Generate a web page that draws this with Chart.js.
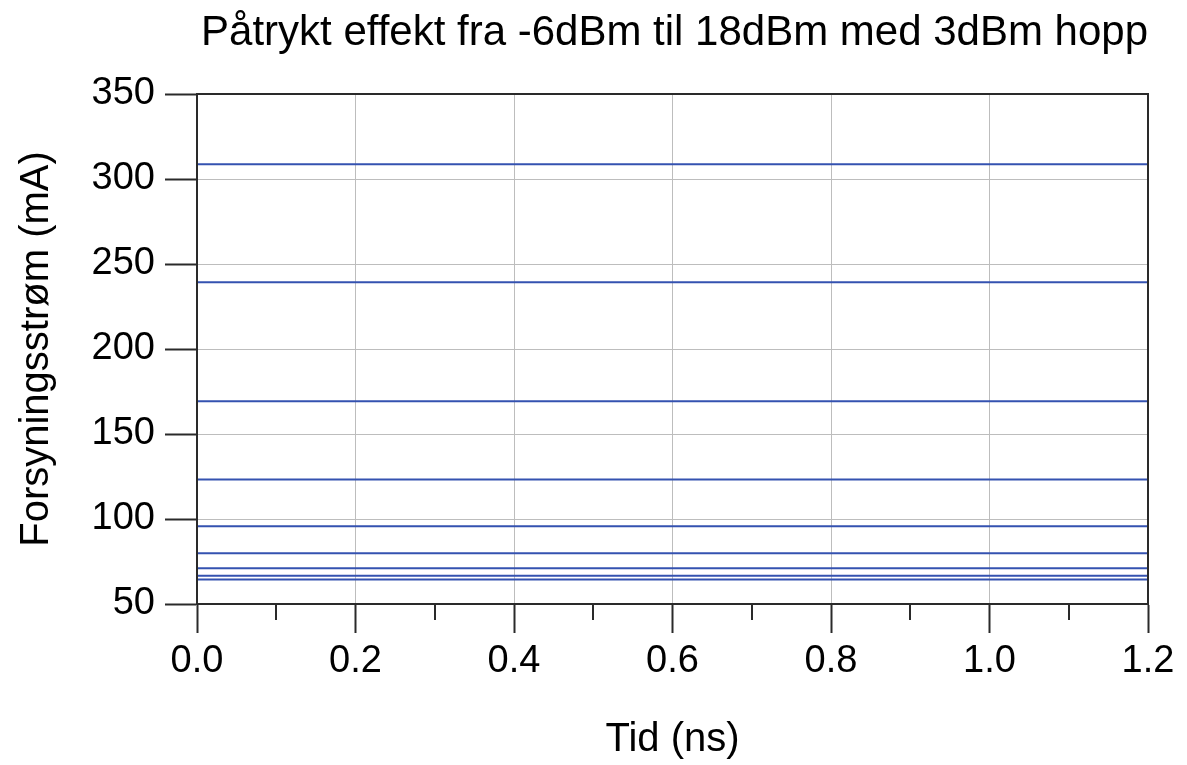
<!DOCTYPE html>
<html>
<head>
<meta charset="utf-8">
<script src="https://cdn.jsdelivr.net/npm/chart.js@4/dist/chart.umd.min.js"></script>
<style>
  html, body { margin: 0; padding: 0; background: #ffffff; }
  #wrap { width: 1187px; height: 765px; }
</style>
</head>
<body>
<div id="wrap"><canvas id="c" width="1187" height="765"></canvas></div>
<script>
// ---- data ----
const timeNs = [0, 0.2, 0.4, 0.6, 0.8, 1.0, 1.2];
const powerLevels = ['-6 dBm', '-3 dBm', '0 dBm', '3 dBm', '6 dBm', '9 dBm', '12 dBm', '15 dBm', '18 dBm'];
const supplyCurrent = [64.4, 66.6, 71.1, 79.8, 95.7, 123.3, 169.2, 239.3, 308.7];
const xTickLabels = ['0.0', '0.2', '0.4', '0.6', '0.8', '1.0', '1.2'];
const yTickLabels = ['50', '100', '150', '200', '250', '300', '350'];

const titleText = 'Påtrykt effekt fra -6dBm til 18dBm med 3dBm hopp';
const xTitle = 'Tid (ns)';
const yTitle = 'Forsyningsstrøm (mA)';

const FONT = "'Liberation Sans', Arial, sans-serif";
const LINE_COLOR = '#3452b0';
const AXIS_COLOR = '#2a2a2a';
const GRID_COLOR = '#bdbdbd';

const datasets = powerLevels.map((lvl, i) => ({
  label: lvl,
  data: timeNs.map(t => ({ x: t, y: supplyCurrent[i] })),
  borderColor: LINE_COLOR,
  backgroundColor: LINE_COLOR,
  borderWidth: 2,
  pointRadius: 0,
  fill: false,
  tension: 0
}));

// minor ticks on the x axis (between major ticks), plus plot frame
const framePlugin = {
  id: 'frame',
  afterDatasetsDraw(chart) {
    const { ctx, chartArea: a } = chart;
    const xs = chart.scales.x;
    ctx.save();
    ctx.strokeStyle = AXIS_COLOR;
    ctx.lineWidth = 2;
    const ticks = xs.ticks.map(t => t.value);
    for (let i = 0; i < ticks.length - 1; i++) {
      const mid = (ticks[i] + ticks[i + 1]) / 2;
      const px = Math.round(xs.getPixelForValue(mid));
      ctx.beginPath();
      ctx.moveTo(px, a.bottom);
      ctx.lineTo(px, a.bottom + 16);
      ctx.stroke();
    }
    ctx.strokeRect(a.left, a.top, a.right - a.left, a.bottom - a.top);
    ctx.restore();
  }
};

new Chart(document.getElementById('c'), {
  type: 'line',
  data: { datasets },
  plugins: [framePlugin],
  options: {
    responsive: false,
    animation: false,
    devicePixelRatio: 1,
    layout: { padding: { left: 0, right: 39, top: 0, bottom: 0 } },
    plugins: {
      legend: { display: false },
      tooltip: { enabled: false },
      title: {
        display: true,
        text: titleText,
        align: 'end',
        color: '#000',
        font: { family: FONT, size: 42, weight: 'normal', lineHeight: 1 },
        padding: { top: 12, bottom: 40 }
      }
    },
    scales: {
      x: {
        type: 'linear',
        min: 0,
        max: 1.2,
        afterFit(scale) { scale.height = 161; },
        ticks: {
          stepSize: 0.2,
          color: '#000',
          padding: 10,
          maxRotation: 0,
          font: { family: FONT, size: 38, lineHeight: 1 },
          callback: (v, i) => xTickLabels[i] !== undefined ? xTickLabels[i] : v.toFixed(1)
        },
        grid: {
          color: GRID_COLOR,
          lineWidth: 1,
          drawTicks: true,
          tickLength: 29,
          tickColor: AXIS_COLOR,
          tickWidth: 2
        },
        border: { display: true, color: AXIS_COLOR, width: 2 },
        title: {
          display: true,
          text: xTitle,
          color: '#000',
          font: { family: FONT, size: 40, lineHeight: 1 },
          padding: { top: 0, bottom: 5 }
        }
      },
      y: {
        type: 'linear',
        min: 50,
        max: 350,
        afterFit(scale) { scale.width = 197; },
        ticks: {
          stepSize: 50,
          color: '#000',
          padding: 10,
          font: { family: FONT, size: 38, lineHeight: 1 },
          callback: (v, i) => yTickLabels[i] !== undefined ? yTickLabels[i] : String(v)
        },
        grid: {
          color: GRID_COLOR,
          lineWidth: 1,
          drawTicks: true,
          tickLength: 32,
          tickColor: AXIS_COLOR,
          tickWidth: 2
        },
        border: { display: true, color: AXIS_COLOR, width: 2 },
        title: {
          display: true,
          text: yTitle,
          color: '#000',
          font: { family: FONT, size: 40, lineHeight: 1 },
          padding: { top: 17, bottom: 0 }
        }
      }
    }
  }
});
</script>
</body>
</html>
